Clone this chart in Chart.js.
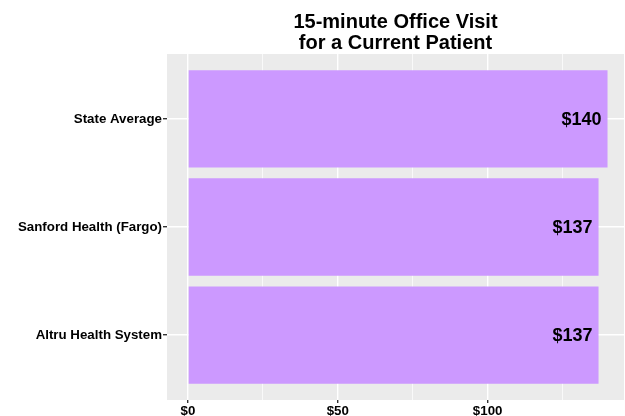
<!DOCTYPE html>
<html>
<head>
<meta charset="utf-8">
<title>15-minute Office Visit</title>
<script src="https://cdn.jsdelivr.net/npm/chart.js@4.4.1/dist/chart.umd.min.js"></script>
<style>
    body { margin: 0; background: #ffffff; }
    #chart { display: block; }
</style>
</head>
<body>
<canvas id="chart" width="625" height="416"></canvas>
<script>
// top to bottom, as in the picture
const providers = ["State Average", "Sanford Health (Fargo)", "Altru Health System"];
const prices = [140, 137, 137];
const priceTicks = [0, 25, 50, 75, 100, 125];
const titleLines = ["15-minute Office Visit", "for a Current Patient"];

const fontFamily = "'Liberation Sans', Arial, sans-serif";

// grey ggplot-like panel behind the bars
const panelBackground = {
    id: "panelBackground",
    beforeDraw(chart) {
        const { ctx, chartArea } = chart;
        ctx.save();
        ctx.fillStyle = "#ebebeb";
        ctx.fillRect(chartArea.left, chartArea.top, chartArea.right - chartArea.left, chartArea.bottom - chartArea.top);
        ctx.restore();
    }
};

// "$140" labels at the end of each bar
const barLabels = {
    id: "barLabels",
    afterDatasetsDraw(chart) {
        const { ctx } = chart;
        const meta = chart.getDatasetMeta(0);
        ctx.save();
        ctx.font = "bold 18px " + fontFamily;
        ctx.fillStyle = "#000000";
        ctx.textAlign = "right";
        ctx.textBaseline = "middle";
        meta.data.forEach((bar, i) => {
            ctx.fillText("$" + prices[i], bar.x - 6, bar.y + 1);
        });
        ctx.restore();
    }
};

new Chart(document.getElementById("chart"), {
    type: "bar",
    data: {
        datasets: [{
            data: prices.map((p, i) => ({ x: p, y: i + 1 })),
            backgroundColor: "#cc99ff",
            borderWidth: 0,
            categoryPercentage: 1,
            barPercentage: 0.9
        }]
    },
    options: {
        indexAxis: "y",
        responsive: false,
        animation: false,
        devicePixelRatio: 1,
        layout: { padding: { left: 0, right: 1, top: 0, bottom: 0 } },
        plugins: {
            legend: { display: false },
            tooltip: { enabled: false },
            title: {
                display: true,
                text: titleLines,
                fullSize: false,
                color: "#000000",
                font: { family: fontFamily, size: 20, weight: "bold", lineHeight: 1.05 },
                padding: { top: 12, bottom: 0 }
            }
        },
        scales: {
            x: {
                type: "linear",
                min: -7,
                max: 145.5,
                afterBuildTicks: (scale) => {
                    scale.ticks = priceTicks.map(v => ({ value: v }));
                },
                afterFit: (scale) => { scale.height = 16; },
                border: { display: false },
                grid: {
                    color: "#ffffff",
                    lineWidth: (c) => (c.tick && c.tick.value % 50 === 0 ? 1.4 : 0.7),
                    tickColor: (c) => (c.tick && c.tick.value % 50 === 0 ? "#333333" : "rgba(0,0,0,0)"),
                    tickLength: 3
                },
                ticks: {
                    autoSkip: false,
                    maxRotation: 0,
                    padding: 0,
                    color: "#000000",
                    font: { family: fontFamily, size: 13.3, weight: "bold" },
                    callback: (v) => (v % 50 === 0 ? "$" + v : "")
                }
            },
            y: {
                type: "linear",
                reverse: true,
                offset: false,
                min: 0.4,
                max: 3.6,
                afterBuildTicks: (scale) => {
                    scale.ticks = providers.map((p, i) => ({ value: i + 1 }));
                },
                afterFit: (scale) => { scale.width = 167; },
                border: { display: false },
                grid: {
                    offset: false,
                    color: "#ffffff",
                    lineWidth: 1.4,
                    tickColor: "#333333",
                    tickLength: 4
                },
                ticks: {
                    autoSkip: false,
                    padding: 1,
                    color: "#000000",
                    font: { family: fontFamily, size: 13.3, weight: "bold" },
                    callback: (v) => providers[v - 1] || ""
                }
            }
        }
    },
    plugins: [panelBackground, barLabels]
});
</script>
</body>
</html>
